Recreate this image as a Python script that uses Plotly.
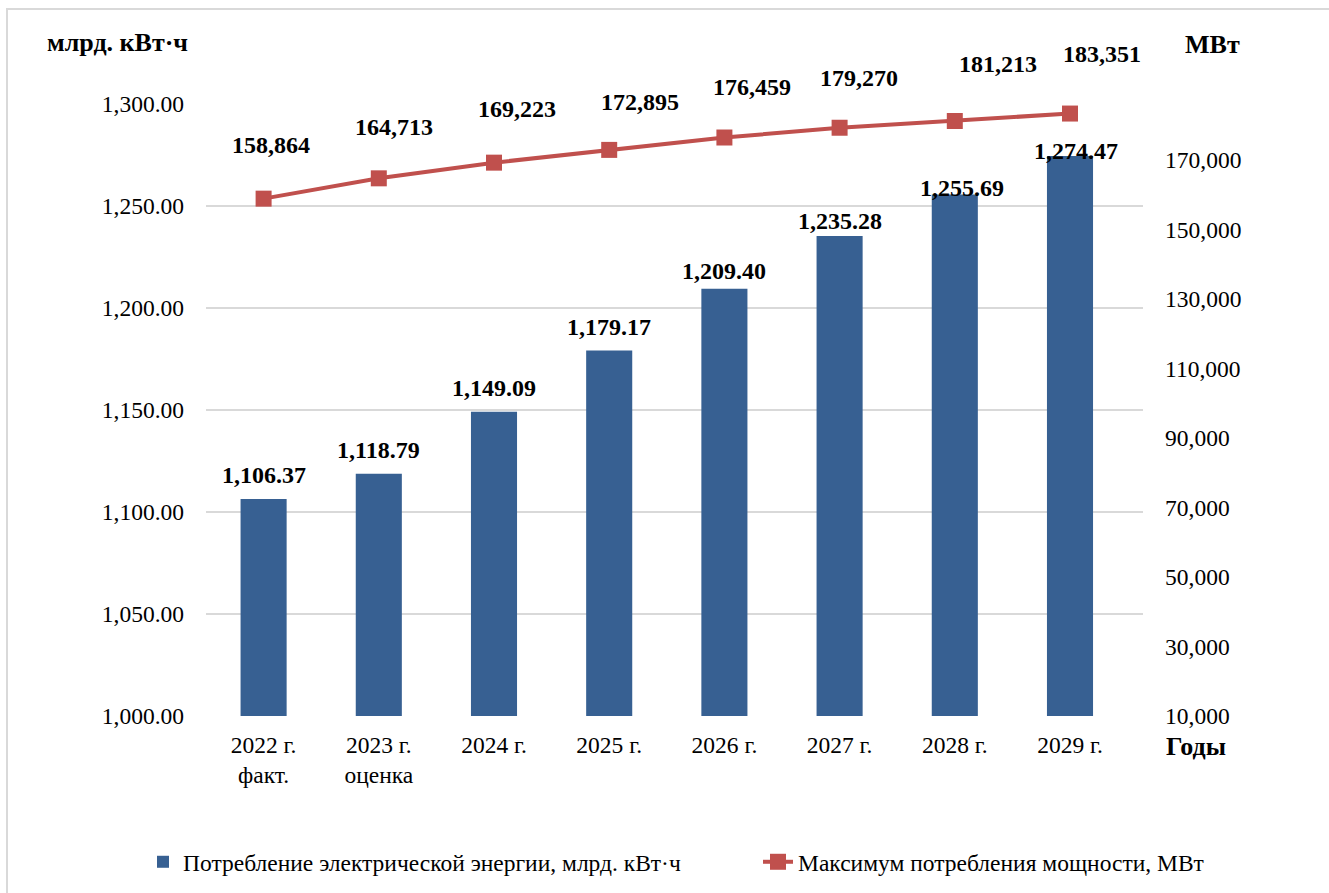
import plotly.graph_objects as go

categories = ["2022 г.<br>факт.", "2023 г.<br>оценка", "2024 г.", "2025 г.", "2026 г.", "2027 г.", "2028 г.", "2029 г."]
energy = [1106.37, 1118.79, 1149.09, 1179.17, 1209.40, 1235.28, 1255.69, 1274.47]
power = [158864, 164713, 169223, 172895, 176459, 179270, 181213, 183351]
left_ticks = [1000, 1050, 1100, 1150, 1200, 1250, 1300]
right_ticks = [10000, 30000, 50000, 70000, 90000, 110000, 130000, 150000, 170000]

bar_name = "Потребление электрической энергии, млрд. кВт·ч"
line_name = "Максимум потребления мощности, МВт"

# label placement (style)
bar_label_dy = [24, 24, 24, 23, 18, 15, 6, 5]
bar_label_dx = [0, 0, 0, 0, 0, 0, 7, 6]
line_label_dy = [54, 51, 54, 48, 51, 50, 57, 60]
line_label_dx = [7, 15, 23, 31, 28, 19, 43, 32]

FONT = "'Liberation Serif', Tinos, 'Times New Roman', Times, 'DejaVu Serif', serif"
BLUE = "#376092"
RED = "#C0504D"
TICK_SIZE = 23.5
LABEL_SIZE = 24
TITLE_SIZE = 26

W, H = 1329, 893
L, R, T, B = 206, 1143, 104, 716

fig = go.Figure()
fig.add_trace(go.Bar(x=categories, y=energy, name=bar_name, marker=dict(color=BLUE, line=dict(width=0)),
                     yaxis="y", legendwidth=570))
fig.add_trace(go.Scatter(x=categories, y=power, name=line_name, mode="lines+markers",
                         line=dict(color=RED, width=4), marker=dict(symbol="square", size=16, color=RED),
                         yaxis="y2"))

ann = []
for i, c in enumerate(categories):
    ann.append(dict(x=c, y=energy[i], xref="x", yref="y", text=f"<b>{energy[i]:,.2f}</b>", showarrow=False,
                    xanchor="center", yanchor="middle", yshift=bar_label_dy[i], xshift=bar_label_dx[i],
                    font=dict(family=FONT, size=LABEL_SIZE, color="black")))
    ann.append(dict(x=c, y=power[i], xref="x", yref="y2", text=f"<b>{power[i]:,d}</b>", showarrow=False,
                    xanchor="center", yanchor="middle", yshift=line_label_dy[i], xshift=line_label_dx[i],
                    font=dict(family=FONT, size=LABEL_SIZE, color="black")))

def px2paper_x(px):
    return (px - L) / (R - L)

def px2paper_y(py):
    return (B - py) / (B - T)

for txt, px, py in [("млрд. кВт·ч", 117, 43), ("МВт", 1212, 45), ("Годы", 1196, 746)]:
    ann.append(dict(x=px2paper_x(px), y=px2paper_y(py), xref="paper", yref="paper", text=f"<b>{txt}</b>",
                    showarrow=False, xanchor="center", yanchor="middle",
                    font=dict(family=FONT, size=TITLE_SIZE, color="black")))

fig.update_layout(
    width=W, height=H,
    margin=dict(l=L, r=W - R, t=T, b=H - B, autoexpand=False),
    paper_bgcolor="white", plot_bgcolor="white",
    font=dict(family=FONT, size=TICK_SIZE, color="black"),
    bargap=0.6,
    showlegend=True,
    legend=dict(orientation="h", x=px2paper_x(143), xanchor="left",
                y=px2paper_y(862), yanchor="middle",
                font=dict(family=FONT, size=TICK_SIZE, color="black"), itemwidth=30, traceorder="normal"),
    xaxis=dict(type="category", showgrid=False, showline=False, ticks="", ticklabelstandoff=12,
               tickfont=dict(family=FONT, size=TICK_SIZE, color="black")),
    yaxis=dict(range=[1000, 1300], tickvals=left_ticks, tickformat=",.2f", showgrid=True,
               gridcolor="#D9D9D9", gridwidth=1.5, zeroline=False, showline=False, ticks="",
               ticklabelstandoff=21, tickfont=dict(family=FONT, size=TICK_SIZE, color="black")),
    yaxis2=dict(range=[10000, 186100], tickvals=right_ticks, tickformat=",d", overlaying="y", side="right",
                showgrid=False, zeroline=False, showline=False, ticks="", ticklabelstandoff=21,
                tickfont=dict(family=FONT, size=TICK_SIZE, color="black")),
    annotations=ann,
    shapes=[dict(type="rect", xref="paper", yref="paper",
                 x0=px2paper_x(7), x1=px2paper_x(1345), y0=px2paper_y(905), y1=px2paper_y(9),
                 line=dict(color="#D9D9D9", width=2), fillcolor="rgba(0,0,0,0)", layer="below")],
)

fig.write_html("out.html")
